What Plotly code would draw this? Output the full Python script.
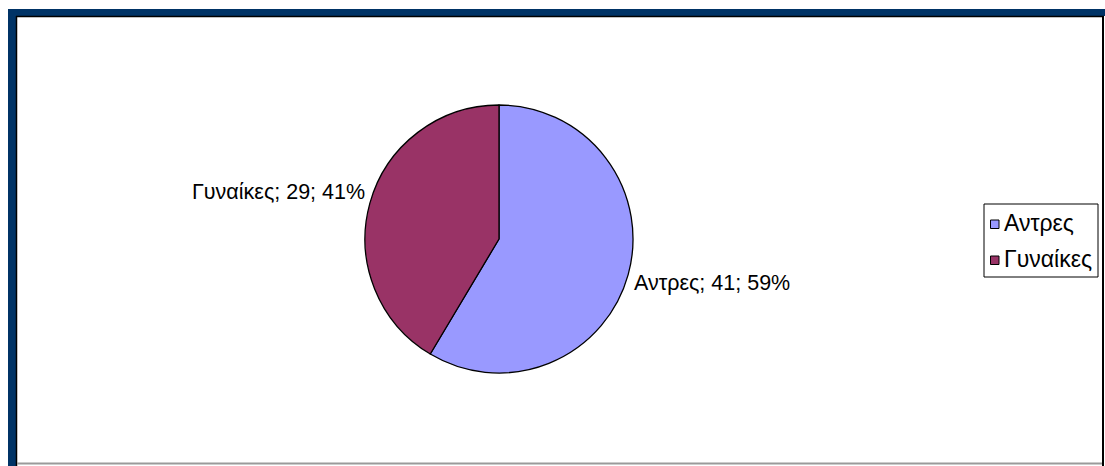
import plotly.graph_objects as go

# Survey breakdown by sex
categories = ["Αντρες", "Γυναίκες"]
counts = [41, 29]
colors = ["#9999FF", "#993366"]

W, H = 1105, 466
FONT = "Liberation Sans, Arial, sans-serif"


def px(x):
    return x / W


def py(y):
    return 1 - y / H


total = sum(counts)
pcts = [round(100 * c / total) for c in counts]

# Pie geometry (pixels)
cx, cy, r = 499, 239, 134

fig = go.Figure(
    go.Pie(
        labels=categories,
        values=counts,
        sort=False,
        direction="clockwise",
        rotation=0,
        marker=dict(colors=colors, line=dict(color="#000000", width=1.3)),
        textinfo="none",
        hoverinfo="label+value+percent",
        showlegend=False,
        domain=dict(x=[px(cx - r), px(cx + r)], y=[py(cy + r), py(cy - r)]),
    )
)

# Slice labels: "name; value; percent"
label_pos = [
    dict(x=632, y=283, xanchor="left"),   # Αντρες
    dict(x=367, y=192, xanchor="right"),  # Γυναίκες
]
annotations = []
for cat, val, pct, pos in zip(categories, counts, pcts, label_pos):
    annotations.append(
        dict(
            text=f"{cat}; {val}; {pct}%",
            x=px(pos["x"]), y=py(pos["y"]),
            xref="paper", yref="paper",
            xanchor=pos["xanchor"], yanchor="middle",
            showarrow=False,
            font=dict(family=FONT, size=21.5, color="#000000"),
        )
    )

shapes = []
# Outer frame: dark blue band on top/left, thin dark edges
shapes.append(dict(type="rect", xref="paper", yref="paper",
                   x0=px(8), x1=px(16), y0=py(466), y1=py(9),
                   fillcolor="#003366", line=dict(width=0), layer="above"))
shapes.append(dict(type="rect", xref="paper", yref="paper",
                   x0=px(8), x1=px(1105), y0=py(16), y1=py(9),
                   fillcolor="#003366", line=dict(width=0), layer="above"))
shapes.append(dict(type="line", xref="paper", yref="paper",
                   x0=px(16.5), x1=px(16.5), y0=py(466), y1=py(16),
                   line=dict(color="#000000", width=1.5)))
shapes.append(dict(type="line", xref="paper", yref="paper",
                   x0=px(16), x1=px(1104), y0=py(16.5), y1=py(16.5),
                   line=dict(color="#000000", width=1.5)))
shapes.append(dict(type="line", xref="paper", yref="paper",
                   x0=px(17), x1=px(1103), y0=py(463.5), y1=py(463.5),
                   line=dict(color="#9a9a9a", width=2)))
shapes.append(dict(type="line", xref="paper", yref="paper",
                   x0=px(1103), x1=px(1103), y0=py(466), y1=py(16),
                   line=dict(color="#000000", width=2)))

# Legend box with one swatch and name per category
lx0, ly0, lx1, ly1 = 984, 204, 1098, 277
shapes.append(dict(type="rect", xref="paper", yref="paper",
                   x0=px(lx0), x1=px(lx1), y0=py(ly1), y1=py(ly0),
                   fillcolor="#FFFFFF", line=dict(color="#000000", width=1)))
row_y = [224, 260]
for cat, col, ry in zip(categories, colors, row_y):
    shapes.append(dict(type="rect", xref="paper", yref="paper",
                       x0=px(990.5), x1=px(999), y0=py(ry + 4.5), y1=py(ry - 4),
                       fillcolor=col, line=dict(color="#000000", width=1)))
    annotations.append(
        dict(
            text=cat, x=px(1001.5), y=py(ry - 1), xref="paper", yref="paper",
            xanchor="left", yanchor="middle", showarrow=False,
            font=dict(family=FONT, size=23, color="#000000"),
        )
    )

fig.update_layout(
    width=W, height=H,
    margin=dict(l=0, r=0, t=0, b=0),
    paper_bgcolor="#FFFFFF",
    plot_bgcolor="#FFFFFF",
    shapes=shapes,
    annotations=annotations,
    font=dict(family=FONT),
)

fig.write_html("out.html")
